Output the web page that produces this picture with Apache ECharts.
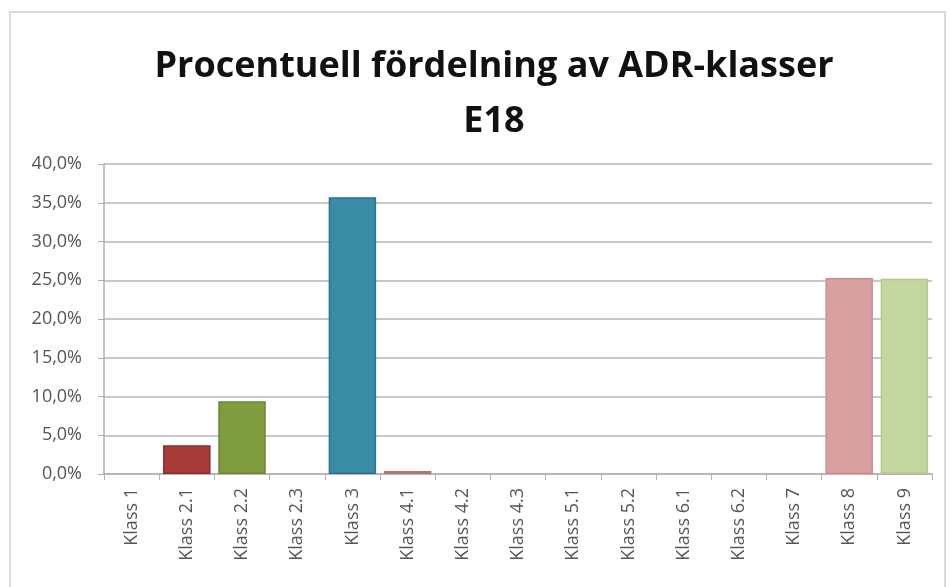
<!DOCTYPE html>
<html>
<head>
<meta charset="utf-8">
<script src="https://cdn.jsdelivr.net/npm/echarts@6/dist/echarts.min.js"></script>
<style>
    html, body { margin: 0; padding: 0; background: #fff; }
    #adr_chart { width: 950px; height: 587px; }
</style>
</head>
<body>
<div id="adr_chart"></div>
<script>
// kategorier och andelar (procent)
const klasser = ["Klass 1", "Klass 2.1", "Klass 2.2", "Klass 2.3", "Klass 3", "Klass 4.1", "Klass 4.2",
    "Klass 4.3", "Klass 5.1", "Klass 5.2", "Klass 6.1", "Klass 6.2", "Klass 7", "Klass 8", "Klass 9"];
const andelar = [0, 3.7, 9.4, 0, 35.7, 0.4, 0, 0, 0, 0, 0, 0, 0, 25.3, 25.2];
const yTicks = [0, 5, 10, 15, 20, 25, 30, 35, 40];

// färger per stapel
const fills = ['#a9a9a9', '#a63b38', '#7f9c3e', '#a9a9a9', '#3a8ba4', '#c58b85', '#a9a9a9',
    '#a9a9a9', '#a9a9a9', '#a9a9a9', '#a9a9a9', '#a9a9a9', '#a9a9a9', '#d9a0a2', '#c5d7a0'];
const borders = ['#888', '#8a2e2c', '#6c8634', '#888', '#2f7389', '#b07570', '#888',
    '#888', '#888', '#888', '#888', '#888', '#888', '#c98d90', '#b3c78c'];

const fmt = v => v.toFixed(1).replace('.', ',') + '%';

const chart = echarts.init(document.getElementById('adr_chart'));
const option = {
    animation: false,
    title: {
        text: 'Procentuell fördelning av ADR-klasser\nE18',
        left: 489,
        top: 34,
        textAlign: 'center',
        textStyle: {
            fontFamily: 'Open Sans',
            fontWeight: 'bold',
            fontSize: 36,
            lineHeight: 55,
            color: '#111'
        }
    },
    graphic: [{
        type: 'rect',
        shape: { x: 10, y: 12, width: 935, height: 600 },
        style: { fill: 'none', stroke: '#d9d9d9', lineWidth: 2 },
        silent: true
    }],
    grid: {
        left: 104,
        right: 18,
        top: 164,
        bottom: 113
    },
    xAxis: {
        type: 'category',
        data: klasser,
        axisLine: { lineStyle: { color: '#b0b0b0', width: 1.5 } },
        axisTick: { show: true, length: 6, lineStyle: { color: '#b0b0b0' } },
        axisLabel: {
            rotate: 90,
            margin: 14,
            fontFamily: 'Open Sans',
            fontSize: 18,
            color: '#555'
        }
    },
    yAxis: {
        type: 'value',
        min: yTicks[0],
        max: yTicks[yTicks.length - 1],
        interval: 5,
        axisLine: { show: true, lineStyle: { color: '#b0b0b0', width: 1.5 } },
        axisTick: { show: true, length: 6, lineStyle: { color: '#b0b0b0' } },
        splitLine: { lineStyle: { color: '#c8c8c8', width: 2 } },
        axisLabel: {
            formatter: fmt,
            margin: 22,
            fontFamily: 'Open Sans',
            fontSize: 18,
            color: '#555'
        }
    },
    series: [{
        type: 'bar',
        barCategoryGap: '14%',
        data: andelar.map((v, i) => ({
            value: v,
            itemStyle: { color: fills[i], borderColor: borders[i], borderWidth: v > 0 ? 1.5 : 0 }
        }))
    }]
};
chart.setOption(option);
</script>
</body>
</html>
